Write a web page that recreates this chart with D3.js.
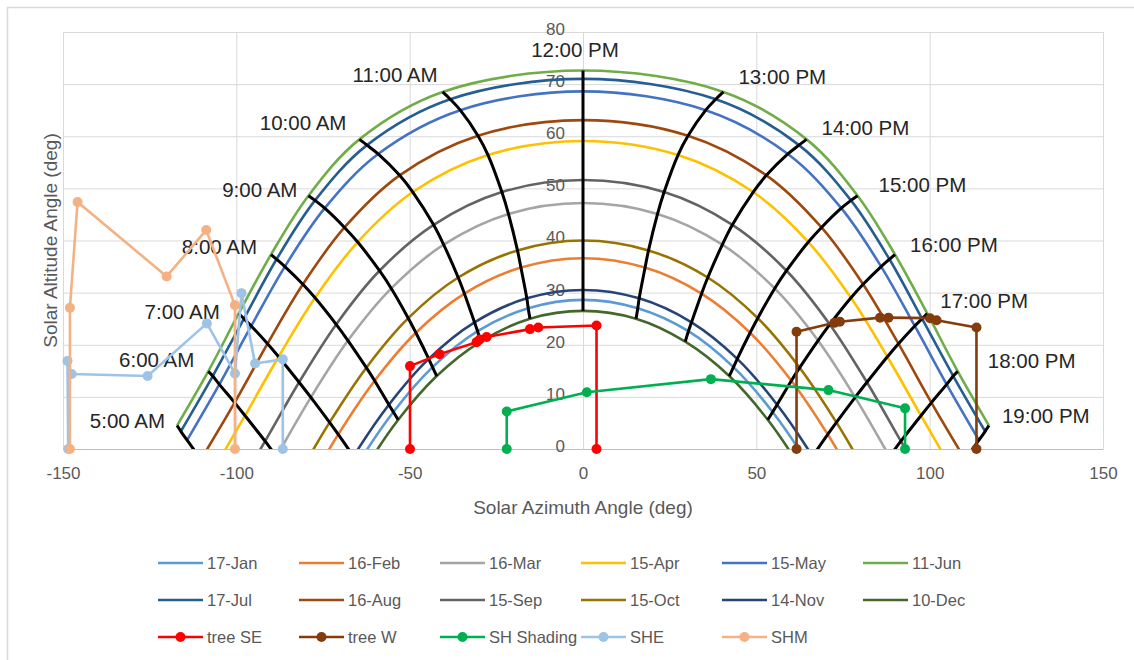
<!DOCTYPE html>
<html><head><meta charset="utf-8">
<script src="https://cdn.jsdelivr.net/npm/d3@7"></script>
<style>
body{margin:0;background:#fff;}
svg{display:block;font-family:"Liberation Sans",Arial,sans-serif;}
</style>
</head><body>
<svg id="chart" width="1134" height="660"></svg>
<script>
// ---------------- DATA ----------------
const dates = ["17-Jan","16-Feb","16-Mar","15-Apr","15-May","11-Jun","17-Jul","16-Aug","15-Sep","15-Oct","14-Nov","10-Dec"];
const hourLabels = ["5:00 AM","6:00 AM","7:00 AM","8:00 AM","9:00 AM","10:00 AM","11:00 AM","12:00 PM",
  "13:00 PM","14:00 PM","15:00 PM","16:00 PM","17:00 PM","18:00 PM","19:00 PM"];
// solar azimuth (deg from south) per date, hours 5..19
const azimuth = [
  [-83.1,-74.0,-64.8,-54.7,-43.4,-30.4,-15.8,0,15.8,30.4,43.4,54.7,64.8,74.0,83.1],
  [-89.9,-80.3,-70.6,-60.1,-48.2,-34.2,-17.9,0,17.9,34.2,48.2,60.1,70.6,80.3,89.9],
  [-98.3,-88.4,-78.5,-67.8,-55.3,-40.2,-21.5,0,21.5,40.2,55.3,67.8,78.5,88.4,98.3],
  [-107.2,-97.5,-87.8,-77.3,-65.0,-49.1,-27.4,0,27.4,49.1,65.0,77.3,87.8,97.5,107.2],
  [-114.2,-104.9,-95.7,-86.0,-74.5,-59.1,-35.4,0,35.4,59.1,74.5,86.0,95.7,104.9,114.2],
  [-117.1,-108.1,-99.3,-90.0,-79.2,-64.5,-40.5,0,40.5,64.5,79.2,90.0,99.3,108.1,117.1],
  [-116.0,-106.8,-97.8,-88.4,-77.3,-62.3,-38.3,0,38.3,62.3,77.3,88.4,97.8,106.8,116.0],
  [-110.2,-100.5,-91.0,-80.8,-68.8,-52.9,-30.3,0,30.3,52.9,68.8,80.8,91.0,100.5,110.2],
  [-101.7,-91.7,-81.9,-71.2,-58.7,-43.1,-23.4,0,23.4,43.1,58.7,71.2,81.9,91.7,101.7],
  [-92.6,-82.9,-73.1,-62.5,-50.4,-36.0,-18.9,0,18.9,36.0,50.4,62.5,73.1,82.9,92.6],
  [-84.7,-75.5,-66.2,-56.0,-44.5,-31.3,-16.2,0,16.2,31.3,44.5,56.0,66.2,75.5,84.7],
  [-81.2,-72.3,-63.2,-53.3,-42.2,-29.5,-15.3,0,15.3,29.5,42.2,53.3,63.2,72.3,81.2]
];
// solar altitude (deg) per date, hours 5..19
const altitude = [
  [-24.5,-13.3,-2.7,7.1,15.7,22.6,27.0,28.6,27.0,22.6,15.7,7.1,-2.7,-13.3,-24.5],
  [-19.6,-8.2,2.8,13.1,22.3,29.8,34.8,36.6,34.8,29.8,22.3,13.1,2.8,-8.2,-19.6],
  [-12.7,-1.4,9.9,20.8,30.8,39.2,45.1,47.2,45.1,39.2,30.8,20.8,9.9,-1.4,-12.7],
  [-4.7,6.4,17.7,29.0,39.7,49.3,56.4,59.1,56.4,49.3,39.7,29.0,17.7,6.4,-4.7],
  [1.7,12.4,23.6,35.0,46.2,56.6,65.0,68.6,65.0,56.6,46.2,35.0,23.6,12.4,1.7],
  [4.5,14.9,26.0,37.3,48.6,59.4,68.5,72.6,68.5,59.4,48.6,37.3,26.0,14.9,4.5],
  [3.4,14.0,25.0,36.4,47.7,58.3,67.1,71.0,67.1,58.3,47.7,36.4,25.0,14.0,3.4],
  [-2.0,8.9,20.2,31.6,42.5,52.5,60.1,63.1,60.1,52.5,42.5,31.6,20.2,8.9,-2.0],
  [-9.8,1.5,12.8,23.9,34.2,43.0,49.3,51.6,49.3,43.0,34.2,23.9,12.8,1.5,-9.8],
  [-17.4,-6.0,5.1,15.6,25.1,32.9,38.1,40.0,38.1,32.9,25.1,15.6,5.1,-6.0,-17.4],
  [-23.3,-12.1,-1.4,8.5,17.3,24.3,28.9,30.5,28.9,24.3,17.3,8.5,-1.4,-12.1,-23.3],
  [-25.7,-14.6,-4.1,5.6,14.0,20.6,25.0,26.5,25.0,20.6,14.0,5.6,-4.1,-14.6,-25.7]
];
// obstruction series
const treeSE_az  = [-49.9,-49.9,-41.4,-30.7,-29.8,-27.8,-15.3,-12.9,3.9,3.9];
const treeSE_alt = [0,15.9,18.2,20.5,21.0,21.5,23.0,23.3,23.7,0];
const treeW_az   = [61.6,61.6,72.5,74.1,85.7,88.1,100.1,102.0,113.5,113.5];
const treeW_alt  = [0,22.5,24.2,24.4,25.2,25.2,25.1,24.7,23.3,0];
const shShading_az  = [-22.0,-22.0,1.1,36.9,70.8,92.9,92.9];
const shShading_alt = [0,7.2,10.9,13.4,11.3,7.8,0];
const she_az  = [-148.5,-148.7,-147.5,-125.6,-108.5,-100.4,-98.5,-94.6,-86.6,-86.6];
const she_alt = [0,16.9,14.4,14.0,24.1,14.5,29.9,16.4,17.2,0];
const shm_az  = [-148.0,-148.0,-145.8,-120.1,-108.7,-100.4,-100.4];
const shm_alt = [0,27.1,47.4,33.1,42.0,27.6,0];
const xTicks = [-150,-100,-50,0,50,100,150];
const yTicks = [0,10,20,30,40,50,60,70,80];

// ---------------- STYLE ----------------
const dateColors = ["#5B9BD5","#ED7D31","#A5A5A5","#FFC000","#4472C4","#70AD47","#255E91","#9E480E","#636363","#997300","#264478","#43682B"];
const obstruction = [
  {name:"tree SE", az:treeSE_az, alt:treeSE_alt, color:"#FF0000"},
  {name:"tree W", az:treeW_az, alt:treeW_alt, color:"#843C0C"},
  {name:"SH Shading", az:shShading_az, alt:shShading_alt, color:"#00B050"},
  {name:"SHE", az:she_az, alt:she_alt, color:"#9DC3E6"},
  {name:"SHM", az:shm_az, alt:shm_alt, color:"#F4B183"}
];
// label offsets (px) from the highest-day point of each hour
const labelOffsets = [[-12,-5],[-14,-12],[-19,-2],[-14,-8],[-11,-6],[-13,-17],[-5,-17],[-8,-21],
  [15,-15],[15,-12],[21,-11],[15,-10],[13,-13],[30,-11],[13,-10]];

const svg = d3.select("#chart");
const L=63, R=1103, T=32, B=449;
const x = d3.scaleLinear().domain([-150,150]).range([L,R]);
const y = d3.scaleLinear().domain([0,80]).range([B,T]);
const grid = "#d9d9d9", txt = "#595959";
const plain = d => String(d);

svg.append("rect").attr("width",1134).attr("height",660).attr("fill","#fff");
svg.append("rect").attr("x",7.5).attr("y",7.5).attr("width",1140).attr("height",700)
  .attr("fill","none").attr("stroke",grid).attr("stroke-width",1.5);

// gridlines
const gx = svg.append("g").attr("transform",`translate(0,${B})`)
  .call(d3.axisBottom(x).tickValues(xTicks).tickSize(-(B-T)).tickFormat(""));
gx.select(".domain").remove();
gx.selectAll("line").attr("stroke",grid);
const gy = svg.append("g").attr("transform",`translate(${L},0)`)
  .call(d3.axisLeft(y).tickValues(yTicks).tickSize(-(R-L)).tickFormat(""));
gy.select(".domain").remove();
gy.selectAll("line").attr("stroke",grid);

// axes
const ax = svg.append("g").attr("transform",`translate(0,${B})`)
  .call(d3.axisBottom(x).tickValues(xTicks).tickFormat(plain).tickSize(0).tickPadding(18));
ax.select(".domain").attr("stroke","#bfbfbf");
ax.selectAll("text").attr("fill",txt).attr("font-size",17).attr("font-family","Liberation Sans, Arial, sans-serif");
const ay = svg.append("g").attr("transform",`translate(${x(0)},0)`)
  .call(d3.axisLeft(y).tickValues(yTicks).tickFormat(plain).tickSize(0).tickPadding(18));
ay.select(".domain").attr("stroke",grid);
ay.selectAll("text").attr("fill",txt).attr("font-size",17).attr("font-family","Liberation Sans, Arial, sans-serif")
  .attr("transform","translate(0,-3)");

// clip
svg.append("clipPath").attr("id","plotclip").append("rect")
  .attr("x",L).attr("y",T).attr("width",R-L).attr("height",B-T);
const plot = svg.append("g").attr("clip-path","url(#plotclip)");

const smooth = d3.line().x(d=>x(d[0])).y(d=>y(d[1])).curve(d3.curveCatmullRom.alpha(0.5));
const straight = d3.line().x(d=>x(d[0])).y(d=>y(d[1]));

// date curves
dates.forEach((dname,i)=>{
  const pts = hourLabels.map((h,j)=>[azimuth[i][j], altitude[i][j]]);
  plot.append("path").attr("d",smooth(pts)).attr("fill","none")
    .attr("stroke",dateColors[i]).attr("stroke-width",2.6);
});

// hour lines: ordered by noon altitude (highest day first)
const noon = hourLabels.indexOf("12:00 PM");
const order = d3.range(dates.length).sort((a,b)=>altitude[b][noon]-altitude[a][noon]);
hourLabels.forEach((h,j)=>{
  const pts = order.map(i=>[azimuth[i][j], altitude[i][j]]);
  plot.append("path").attr("d",smooth(pts)).attr("fill","none")
    .attr("stroke","#000").attr("stroke-width",3);
});

// hour labels
const topDay = order[0];
hourLabels.forEach((h,j)=>{
  const px = x(azimuth[topDay][j]), py = y(altitude[topDay][j]);
  const [dx,dy] = labelOffsets[j];
  const anchor = j===noon ? "middle" : (j<noon ? "end" : "start");
  svg.append("text").attr("x",px+dx).attr("y",py+dy).attr("dy","0.35em")
    .attr("text-anchor",anchor).attr("font-size",20.5).attr("fill","#262626").text(h);
});

// obstruction series
obstruction.forEach(s=>{
  const pts = s.az.map((a,k)=>[a, s.alt[k]]);
  svg.append("path").attr("d",straight(pts)).attr("fill","none")
    .attr("stroke",s.color).attr("stroke-width",2.6).attr("stroke-linejoin","round");
  svg.append("g").selectAll("circle").data(pts).join("circle")
    .attr("cx",d=>x(d[0])).attr("cy",d=>y(d[1])).attr("r",5).attr("fill",s.color);
});

// axis titles
svg.append("text").attr("x",(L+R)/2).attr("y",507).attr("dy","0.35em").attr("text-anchor","middle")
  .attr("font-size",19).attr("fill",txt).text("Solar Azimuth Angle (deg)");
svg.append("text").attr("transform",`translate(50,${(T+B)/2}) rotate(-90)`).attr("dy","0.35em")
  .attr("text-anchor","middle").attr("font-size",19).attr("fill",txt).text("Solar Altitude Angle (deg)");

// legend
const legendItems = dates.map((d,i)=>({name:d,color:dateColors[i],marker:false}))
  .concat(obstruction.map(s=>({name:s.name,color:s.color,marker:true})));
const lg = svg.append("g");
legendItems.forEach((it,k)=>{
  const cx = 158 + (k%6)*141, cy = 563 + Math.floor(k/6)*37;
  lg.append("line").attr("x1",cx).attr("x2",cx+45).attr("y1",cy).attr("y2",cy)
    .attr("stroke",it.color).attr("stroke-width",2.6);
  if(it.marker) lg.append("circle").attr("cx",cx+22.5).attr("cy",cy).attr("r",5).attr("fill",it.color);
  lg.append("text").attr("x",cx+49).attr("y",cy).attr("dy","0.35em")
    .attr("font-size",16.5).attr("fill",txt).text(it.name);
});
</script>
</body></html>
